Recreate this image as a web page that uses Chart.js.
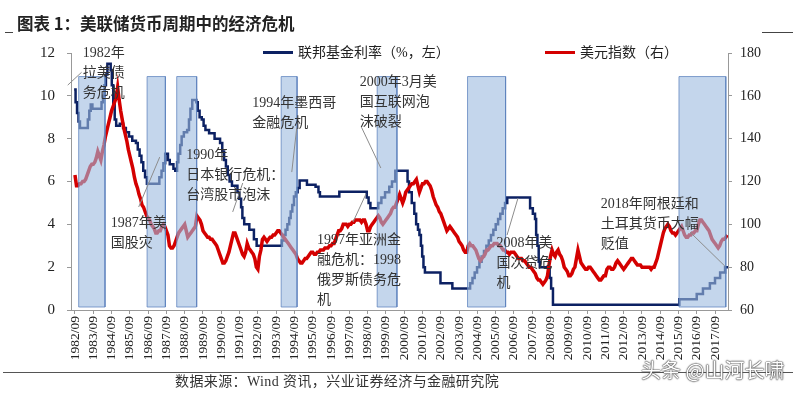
<!DOCTYPE html>
<html lang="zh-CN">
<head>
<meta charset="utf-8">
<title>美联储货币周期中的经济危机</title>
<script src="https://cdn.jsdelivr.net/npm/chart.js@4.4.1/dist/chart.umd.min.js"></script>
<style>
  html, body { margin: 0; padding: 0; background: #fff; }
  #wrap { position: relative; width: 800px; height: 394px; overflow: hidden; }
  #chart { position: absolute; left: 0; top: 0; }
  .rule { position: absolute; height: 1px; background: #444; }
  .txt { position: absolute; white-space: nowrap; font-family: "Liberation Serif", "Noto Sans CJK SC", serif; color: #222; }
  #title { left: 17px; top: 12px; font-size: 16.5px; line-height: 22px; font-weight: bold; font-family: "Noto Sans CJK SC", sans-serif; }
  .legend { top: 43px; font-size: 14px; line-height: 20px; }
  .swatch { display: inline-block; width: 30px; height: 3px; vertical-align: middle; margin-right: 5px; position: relative; top: -1px; }
  #source { left: 175px; top: 373px; font-size: 14px; line-height: 18px; color: #333; letter-spacing: 0.4px; }
  #mark { left: 641px; top: 356px; font-size: 20px; line-height: 28px; color: #fff; font-family: "Noto Sans CJK SC", sans-serif;
          text-shadow: 0 0 1px #333, 0 0 1px #333, 0 0 2px #555; }
</style>
</head>
<body>
<div id="wrap">
  <canvas id="chart" width="800" height="394"></canvas>
  <div class="rule" style="left:5px;top:32px;width:8px"></div>
  <div id="title" class="txt">图表 1：美联储货币周期中的经济危机</div>
  <div class="rule" style="left:762px;top:32px;width:31px"></div>
  <div class="txt legend" style="left:263px"><span class="swatch" style="background:#0c2163"></span>联邦基金利率（%，左）</div>
  <div class="txt legend" style="left:545px"><span class="swatch" style="background:#d40000"></span>美元指数（右）</div>
  <div class="rule" style="left:3px;top:372px;width:790px;background:#555"></div>
  <div id="source" class="txt">数据来源：Wind 资讯，兴业证券经济与金融研究院</div>
  <div id="mark" class="txt">头条 @山河长啸</div>
</div>
<script>
// x 轴刻度标签（每年 9 月）
const tickLabels = [
  '1982/09', '1983/09', '1984/09', '1985/09', '1986/09', '1987/09', '1988/09', '1989/09', '1990/09',
  '1991/09', '1992/09', '1993/09', '1994/09', '1995/09', '1996/09', '1997/09', '1998/09', '1999/09',
  '2000/09', '2001/09', '2002/09', '2003/09', '2004/09', '2005/09', '2006/09', '2007/09', '2008/09',
  '2009/09', '2010/09', '2011/09', '2012/09', '2013/09', '2014/09', '2015/09', '2016/09', '2017/09'
];

// 联邦基金利率：调整生效时点（年份小数）与调整后的利率 %
const fedDates = [
  1982.62, 1982.70, 1982.78, 1982.86, 1982.94, 1983.37, 1983.45, 1983.53, 1983.62, 1984.12,
  1984.20, 1984.28, 1984.36, 1984.44, 1984.62, 1984.68, 1984.76, 1984.84, 1984.92, 1985.12,
  1985.30, 1985.45, 1985.62, 1985.80, 1986.00, 1986.10, 1986.20, 1986.30, 1986.40, 1986.50,
  1986.60, 1987.28, 1987.40, 1987.50, 1987.60, 1987.75, 1987.85, 1988.05, 1988.15, 1988.25,
  1988.32, 1988.42, 1988.50, 1988.62, 1988.80, 1988.90, 1988.98, 1989.08, 1989.30, 1989.38,
  1989.48, 1989.60, 1989.70, 1989.80, 1990.00, 1990.30, 1990.60, 1990.72, 1990.82, 1990.92,
  1991.02, 1991.12, 1991.25, 1991.55, 1991.65, 1991.75, 1991.82, 1991.92, 1992.20, 1992.45,
  1992.60, 1993.98, 1994.08, 1994.18, 1994.28, 1994.38, 1994.46, 1994.55, 1994.64, 1994.74,
  1994.84, 1994.95, 1995.35, 1995.82, 1995.98, 1996.06, 1997.12, 1998.62, 1998.72, 1998.82,
  1999.25, 1999.42, 1999.62, 1999.85, 2000.00, 2000.18, 2000.85, 2000.93, 2001.08, 2001.22,
  2001.32, 2001.42, 2001.50, 2001.58, 2001.65, 2001.72, 2001.80, 2002.65, 2003.30, 2004.27,
  2004.40, 2004.52, 2004.65, 2004.78, 2004.90, 2005.03, 2005.16, 2005.29, 2005.41, 2005.54,
  2005.67, 2005.80, 2005.92, 2006.05, 2006.18, 2006.30, 2007.55, 2007.70, 2007.82, 2007.88,
  2007.95, 2008.02, 2008.08, 2008.62, 2008.70, 2008.80, 2015.71, 2016.66, 2017.00, 2017.38,
  2017.66, 2017.94, 2018.21, 2018.40
];
const fedRates = [
  10.3, 9.7, 9.2, 8.8, 8.5, 8.9, 9.3, 9.6, 9.4, 9.7,
  10.0, 10.5, 11.0, 11.5, 11.2, 10.5, 9.6, 8.9, 8.6, 8.7,
  8.5, 8.3, 8.1, 7.9, 7.8, 7.5, 7.2, 6.9, 6.5, 6.2,
  5.9, 6.2, 6.5, 6.85, 7.3, 7.0, 6.8, 6.6, 6.5, 6.9,
  7.3, 7.7, 8.1, 8.3, 8.4, 8.9, 9.4, 9.8, 9.7, 9.3,
  9.0, 8.9, 8.6, 8.4, 8.25, 8.0, 7.8, 7.4, 7.0, 6.7,
  6.3, 6.0, 5.8, 5.5, 5.2, 4.8, 4.3, 4.0, 3.75, 3.3,
  3.0, 3.25, 3.5, 3.75, 4.0, 4.3, 4.6, 4.9, 5.3, 5.5,
  5.7, 6.05, 5.85, 5.75, 5.5, 5.3, 5.52, 5.25, 5.0, 4.75,
  5.0, 5.25, 5.5, 5.75, 6.0, 6.5, 6.0, 5.5, 5.0, 4.5,
  4.0, 3.75, 3.5, 3.0, 2.5, 2.0, 1.75, 1.25, 1.0, 1.25,
  1.5, 1.75, 2.0, 2.25, 2.5, 2.75, 3.0, 3.25, 3.5, 3.75,
  4.0, 4.25, 4.5, 4.75, 5.0, 5.25, 4.75, 4.5, 4.25, 3.5,
  3.0, 2.25, 2.0, 1.5, 1.0, 0.25, 0.5, 0.75, 1.0, 1.25,
  1.5, 1.75, 2.0, 2.0
];

// 美元指数：月度，自 1982/09 起
const dxyStart = [1982, 9];
const dxyValues = [
  123, 118, 118, 119,                                         // 1982 (9-12)
  119, 120, 120, 121, 123, 125, 127, 128, 128, 129, 131, 134, // 1983
  132, 130, 134, 137, 141, 144, 147, 150, 153, 155, 157, 159, // 1984
  164, 158, 153, 149, 145, 142, 139, 135, 132, 129, 126, 122, // 1985
  119, 117, 114, 112, 109, 108, 106, 104, 103, 102, 100, 99,  // 1986
  98, 96, 96, 97, 97, 99, 100, 99, 97, 95, 90, 89,            // 1987
  89, 90, 92, 94, 96, 97, 98, 99, 100, 97, 94, 95,            // 1988
  96, 97, 98, 99, 104, 103, 102, 100, 97, 96, 95, 94,         // 1989
  94, 93, 93, 92, 91, 90, 88, 86, 84, 82, 82, 83,             // 1990
  85, 87, 90, 93, 96, 96, 94, 92, 90, 88, 86, 85,             // 1991
  87, 91, 89, 88, 87, 86, 84, 80, 79, 85, 88, 93,             // 1992
  94, 93, 92, 93, 94, 94, 95, 95, 96, 97, 97, 96,             // 1993
  95, 94, 93, 92, 91, 90, 89, 88, 87, 86, 84, 83,             // 1994
  82, 82, 83, 84, 84, 85, 86, 87, 87, 86, 86, 87,             // 1995
  87, 88, 88, 88, 89, 89, 89, 90, 90, 91, 91, 93,             // 1996
  95, 97, 97, 98, 100, 100, 100, 99, 100, 100, 101, 101,      // 1997
  102, 102, 102, 102, 101, 102, 102, 100, 97, 97, 99, 100,    // 1998
  101, 102, 103, 104, 103, 101, 100, 101, 102, 103, 104, 105, // 1999
  107, 108, 108, 110, 112, 114, 112, 110, 112, 115, 116, 117, // 2000
  118, 119, 119, 120, 121, 118, 115, 117, 119, 119, 120, 120, // 2001
  119, 118, 116, 113, 111, 109, 108, 106, 105, 103, 101, 99,  // 2002
  97, 98, 99, 98, 97, 96, 95, 94, 92, 91, 90, 88,             // 2003
  87, 87, 90, 91, 90, 90, 89, 88, 86, 84, 83, 84,             // 2004
  85, 86, 88, 88, 89, 90, 90, 91, 91, 91, 90, 90,             // 2005
  89, 88, 88, 87, 87, 86, 87, 87, 87, 86, 85, 84,             // 2006
  84, 84, 83, 83, 82, 81, 80, 80, 79, 78, 77, 75,             // 2007
  74, 74, 73, 72, 73, 74, 76, 81, 85, 88, 86, 85,             // 2008
  87, 88, 86, 85, 83, 80, 79, 78, 76, 76, 77, 79,             // 2009
  80, 84, 88, 85, 82, 81, 80, 79, 79, 80, 80, 79,             // 2010
  78, 77, 76, 75, 74, 74, 75, 76, 76, 79, 80, 80,             // 2011
  79, 79, 80, 82, 83, 82, 81, 80, 79, 80, 81, 82,             // 2012
  83, 84, 84, 83, 82, 81, 81, 81, 80, 80, 80, 80,             // 2013
  80, 80, 79, 80, 80, 82, 84, 87, 90, 93, 96, 98,             // 2014
  99, 100, 99, 97, 96, 96, 95, 96, 97, 98, 99, 97,            // 2015
  95, 94, 94, 95, 95, 96, 96, 97, 97, 100, 102, 102,          // 2016
  101, 100, 99, 98, 97, 95, 93, 92, 91, 90, 89, 90,           // 2017
  92, 93, 93, 94, 95                                          // 2018 (1-5)
];

// 危机区间（阴影框起止，年份小数）
const crisisStart = [1982.87, 1986.61, 1988.23, 1993.94, 1999.19, 2004.13, 2015.69];
const crisisEnd   = [1984.31, 1987.61, 1989.32, 1994.81, 2000.27, 2006.21, 2018.25];

// 注释文字与引线（数据坐标：年份, 左轴 %）
const notes = [
  { lines: ['1982年', '拉美债', '务危机'], at: [1983.09, 12.0], lead: [1982.27, 10.5, 1983.03, 11.1] },
  { lines: ['1987年美', '国股灾'], at: [1984.62, 4.06], lead: [1986.15, 4.81, 1987.30, 7.14] },
  { lines: ['1990年', '日本银行危机：', '台湾股市泡沫'], at: [1988.75, 7.21], lead: [1991.29, 4.58, 1991.84, 5.93] },
  { lines: ['1994年墨西哥', '金融危机'], at: [1992.36, 9.65], lead: [1994.79, 8.5, 1994.52, 6.44] },
  { lines: ['2000年3月美', '国互联网泡', '沫破裂'], at: [1998.24, 10.63], lead: [1998.35, 8.5, 1999.39, 6.63] },
  { lines: ['1997年亚洲金', '融危机：1998', '俄罗斯债务危', '机'], at: [1995.90, 3.24], lead: [1997.87, 4.11, 1998.58, 5.42] },
  { lines: ['2008年美', '国次贷危', '机'], at: [2005.72, 3.11], lead: [2006.29, 3.5, 2006.89, 5.23] },
  { lines: ['2018年阿根廷和', '土耳其货币大幅', '贬值'], at: [2011.41, 4.95], lead: [2016.29, 3.64, 2018.2, 2.05] }
];

const BOX_TOP = 10.9;
const BOX_BOTTOM = 0.14;
const SERIF = '"Liberation Serif", "Noto Sans CJK SC", serif';

const tickValues = tickLabels.map((t) => Number(t.slice(0, 4)) + (Number(t.slice(5)) - 1) / 12);

const fedPoints = fedDates.map((d, i) => ({ x: d, y: fedRates[i] }));
const dxyPoints = dxyValues.map((v, i) => ({ x: dxyStart[0] + (dxyStart[1] - 1 + i) / 12, y: v }));

const boxSets = crisisStart.map((s, i) => {
  const e = crisisEnd[i];
  return {
    type: 'line',
    yAxisID: 'y',
    order: 0,
    data: [
      { x: s, y: BOX_BOTTOM }, { x: s, y: BOX_TOP }, { x: e, y: BOX_TOP },
      { x: e, y: BOX_BOTTOM }, { x: s, y: BOX_BOTTOM }
    ],
    borderColor: 'rgba(92,130,190,0.75)',
    borderWidth: 1,
    backgroundColor: 'rgba(156,186,224,0.6)',
    fill: 'shape',
    pointRadius: 0,
    tension: 0
  };
});

// 注释：引线 + 多行文字
const notesPlugin = {
  id: 'crisisNotes',
  afterDatasetsDraw(chart) {
    const { ctx } = chart;
    const x = chart.scales.x;
    const y = chart.scales.y;
    ctx.save();
    ctx.strokeStyle = '#8c8c8c';
    ctx.lineWidth = 1;
    notes.forEach((n) => {
      ctx.beginPath();
      ctx.moveTo(x.getPixelForValue(n.lead[0]), y.getPixelForValue(n.lead[1]));
      ctx.lineTo(x.getPixelForValue(n.lead[2]), y.getPixelForValue(n.lead[3]));
      ctx.stroke();
    });
    ctx.font = '14px ' + SERIF;
    ctx.fillStyle = '#333';
    ctx.textBaseline = 'middle';
    ctx.textAlign = 'left';
    notes.forEach((n) => {
      const px = x.getPixelForValue(n.at[0]);
      const py = y.getPixelForValue(n.at[1]);
      n.lines.forEach((t, i) => ctx.fillText(t, px, py + i * 20));
    });
    ctx.restore();
  }
};

new Chart(document.getElementById('chart'), {
  type: 'line',
  data: {
    datasets: [
      ...boxSets,
      {
        label: '美元指数（右）',
        data: dxyPoints,
        yAxisID: 'y2',
        order: 1,
        borderColor: '#d40000',
        borderWidth: 3.5,
        pointRadius: 0,
        fill: false,
        tension: 0
      },
      {
        label: '联邦基金利率（%，左）',
        data: fedPoints,
        yAxisID: 'y',
        order: 2,
        borderColor: '#0c2163',
        borderWidth: 2.5,
        stepped: true,
        pointRadius: 0,
        fill: false
      }
    ]
  },
  options: {
    responsive: false,
    animation: false,
    devicePixelRatio: 1,
    layout: { padding: { top: 53, left: 0, right: 0, bottom: 0 } },
    plugins: {
      legend: { display: false },
      tooltip: { enabled: false },
      title: { display: false }
    },
    scales: {
      x: {
        type: 'linear',
        position: 'bottom',
        min: 1982.45,
        max: 2018.37,
        afterBuildTicks: (scale) => { scale.ticks = tickValues.map((v) => ({ value: v })); },
        afterFit: (scale) => { scale.height = 84; },
        ticks: {
          autoSkip: false,
          minRotation: 90,
          maxRotation: 90,
          padding: 2,
          color: '#222',
          font: { family: SERIF, size: 13.5 },
          callback: (value, index) => tickLabels[index]
        },
        grid: { drawOnChartArea: false, tickLength: 4, color: '#999' },
        border: { color: '#999' }
      },
      y: {
        type: 'linear',
        position: 'left',
        min: 0,
        max: 12,
        afterFit: (scale) => { scale.width = 71; },
        ticks: { stepSize: 2, padding: 12, color: '#222', font: { family: SERIF, size: 15 } },
        grid: { drawOnChartArea: false, tickLength: 4, color: '#999' },
        border: { color: '#999' }
      },
      y2: {
        type: 'linear',
        position: 'right',
        min: 60,
        max: 180,
        afterFit: (scale) => { scale.width = 72; },
        ticks: { stepSize: 20, padding: 8, color: '#222', font: { family: SERIF, size: 14 } },
        grid: { drawOnChartArea: false, tickLength: 4, color: '#999' },
        border: { color: '#999' }
      }
    }
  },
  plugins: [notesPlugin]
});
</script>
</body>
</html>
